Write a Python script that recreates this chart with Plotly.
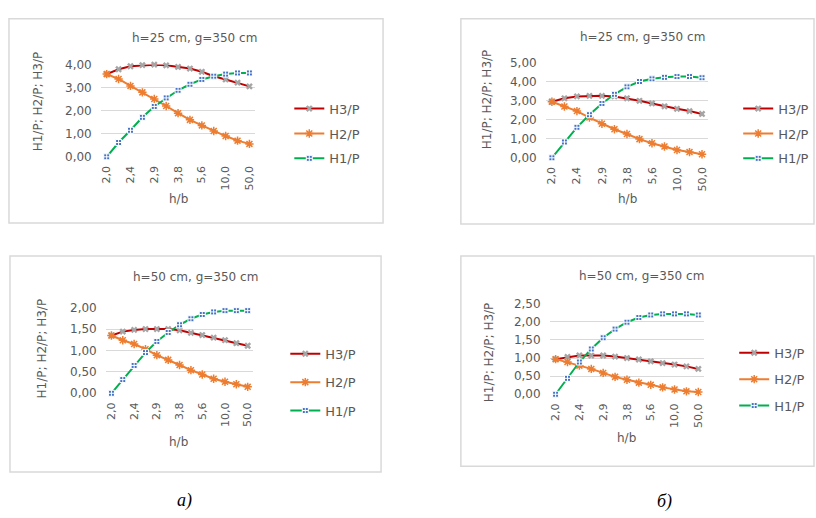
import plotly.graph_objects as go

W, H = 816, 518

# ---------------- data ----------------
categories = ["2,0", "2,2", "2,4", "2,6", "2,9", "3,3", "3,8", "4,5", "5,6", "7,1", "10,0", "16,7", "50,0"]
tick_labels = ["2,0", "2,4", "2,9", "3,8", "5,6", "10,0", "50,0"]
series_names = ["H3/P", "H2/P", "H1/P"]

# a) h=25 cm
a25_h3 = [3.58, 3.79, 3.92, 3.97, 3.99, 3.96, 3.89, 3.82, 3.68, 3.49, 3.35, 3.21, 3.05]
a25_h2 = [3.58, 3.37, 3.07, 2.79, 2.50, 2.20, 1.89, 1.60, 1.36, 1.12, 0.90, 0.70, 0.56]
a25_h1 = [0.00, 0.62, 1.15, 1.71, 2.18, 2.55, 2.88, 3.14, 3.35, 3.49, 3.58, 3.63, 3.63]
# б) h=25 cm
b25_h3 = [2.94, 3.12, 3.22, 3.25, 3.25, 3.22, 3.12, 2.99, 2.85, 2.70, 2.57, 2.45, 2.30]
b25_h2 = [2.94, 2.69, 2.45, 2.11, 1.79, 1.50, 1.25, 0.98, 0.76, 0.59, 0.41, 0.30, 0.19]
b25_h1 = [0.00, 0.83, 1.60, 2.26, 2.85, 3.33, 3.72, 4.00, 4.14, 4.22, 4.26, 4.26, 4.20]
# a) h=50 cm
a50_h3 = [1.35, 1.44, 1.48, 1.50, 1.50, 1.50, 1.47, 1.41, 1.36, 1.30, 1.24, 1.17, 1.11]
a50_h2 = [1.35, 1.24, 1.15, 1.03, 0.89, 0.78, 0.66, 0.54, 0.44, 0.34, 0.27, 0.21, 0.15]
a50_h1 = [0.00, 0.32, 0.65, 0.95, 1.21, 1.42, 1.60, 1.74, 1.84, 1.90, 1.93, 1.93, 1.93]
# б) h=50 cm
b50_h3 = [0.97, 1.03, 1.07, 1.07, 1.07, 1.04, 1.00, 0.96, 0.91, 0.86, 0.82, 0.77, 0.70]
b50_h2 = [0.97, 0.89, 0.79, 0.70, 0.59, 0.48, 0.40, 0.32, 0.26, 0.19, 0.13, 0.08, 0.06]
b50_h1 = [0.00, 0.44, 0.89, 1.25, 1.56, 1.80, 1.99, 2.12, 2.19, 2.22, 2.22, 2.22, 2.19]

titles = ["h=25 cm, g=350 cm", "h=25 cm, g=350 cm", "h=50 cm, g=350 cm", "h=50 cm, g=350 cm"]
y_title = "H1/P; H2/P; H3/P"
x_title = "h/b"
y_max = [4, 5, 2, 2.5]
y_dtick = [1, 1, 0.5, 0.5]
panel_letters = ["а)", "б)"]

data = [(a25_h3, a25_h2, a25_h1), (b25_h3, b25_h2, b25_h1),
        (a50_h3, a50_h2, a50_h1), (b50_h3, b50_h2, b50_h1)]

# ---------------- layout geometry (pixels) ----------------
panels = [
    dict(border=(8, 12, 383, 222), plot=(100, 255, 59, 154), title=(194, 32), ytitle=(37, 97), xtitle=(178, 197), leg=(289, 89), gap=5),
    dict(border=(461, 12, 815, 223), plot=(546, 709, 57, 155), title=(643, 31), ytitle=(488, 95), xtitle=(628, 197), leg=(739, 89), gap=5),
    dict(border=(9, 256, 381, 478), plot=(105, 253, 309, 397), title=(195, 278), ytitle=(41, 351), xtitle=(178, 447), leg=(285, 341), gap=8.5),
    dict(border=(461, 256, 815, 472), plot=(550, 705, 305, 398), title=(642, 276), ytitle=(490, 355), xtitle=(627, 443), leg=(735, 340), gap=6.5),
]

def px(x):
    return x / W

def py(y):
    return 1 - y / H

GRAY = "#595959"
FONT = "DejaVu Sans"
colors_line = ["#C00000", "#ED7D31", "#00B050"]

fig = go.Figure()
layout = dict(
    width=W, height=H, margin=dict(l=0, r=0, t=0, b=0),
    paper_bgcolor="white", plot_bgcolor="white",
    separators=", ", showlegend=True,
    font=dict(family=FONT, color=GRAY, size=11),
)
annotations = []
shapes = []

def ann(text, x, y, size, angle=0, color=GRAY, family=FONT):
    return dict(text=text, x=px(x), y=py(y), xref="paper", yref="paper",
                xanchor="center", yanchor="middle", showarrow=False, textangle=angle,
                font=dict(size=size, color=color, family=family))

for i, (p, series) in enumerate(zip(panels, data)):
    n = "" if i == 0 else str(i + 1)
    xa, ya = "x" + n, "y" + n
    leg = "legend" if i == 0 else "legend" + str(i + 1)
    x0, x1, yt, yb = p["plot"]
    for k, (name, vals) in enumerate(zip(series_names, series)):
        if k == 0:
            marker = dict(symbol="x", size=6, color="#A5A5A5", line=dict(width=0))
        elif k == 1:
            marker = dict(symbol="asterisk-open", size=7, color=colors_line[1], line=dict(width=1.5, color=colors_line[1]))
        else:
            marker = dict(symbol="square-cross", size=6, color="#4472C4", line=dict(width=1, color="white"))
        fig.add_trace(go.Scatter(
            x=categories, y=vals, name=name, mode="lines+markers",
            line=dict(color=colors_line[k], width=2),
            marker=marker, xaxis=xa, yaxis=ya, legend=leg,
            legendgroup=f"g{i}{k}", cliponaxis=False,
        ))
    layout["xaxis" + n] = dict(
        domain=[px(x0), px(x1)], anchor=ya, type="category",
        categoryorder="array", categoryarray=categories,
        range=[-0.5, len(categories) - 0.5],
        tickmode="array", tickvals=tick_labels, ticktext=tick_labels,
        tickangle=-90, showgrid=False, zeroline=False, showline=False,
        ticks="", tickfont=dict(size=11, color=GRAY, family=FONT),
        ticklabelstandoff=6,
    )
    layout["yaxis" + n] = dict(
        domain=[py(yb), py(yt)], anchor=xa,
        range=[0, y_max[i]], dtick=y_dtick[i], tickformat=".2f",
        showgrid=True, gridcolor="#D9D9D9", gridwidth=1, zeroline=False,
        showline=False, ticks="", tickfont=dict(size=12, color=GRAY, family=FONT),
        ticklabelstandoff=8,
    )
    lx, ly = p["leg"]
    layout[leg] = dict(
        x=px(lx), y=py(ly), xanchor="left", yanchor="top",
        bgcolor="rgba(0,0,0,0)", font=dict(size=13, color=GRAY, family=FONT),
        tracegroupgap=p["gap"], traceorder="grouped", itemwidth=30,
    )
    bx0, by0, bx1, by1 = p["border"]
    shapes.append(dict(type="rect", xref="paper", yref="paper",
                       x0=px(bx0), x1=px(bx1), y0=py(by1), y1=py(by0),
                       line=dict(color="#D9D9D9", width=1.5), fillcolor="rgba(0,0,0,0)"))
    annotations.append(ann(titles[i], *p["title"], 12))
    annotations.append(ann(y_title, *p["ytitle"], 12, angle=-90))
    annotations.append(ann(x_title, *p["xtitle"], 12))

for letter, pos in zip(panel_letters, [(184, 507), (665, 508)]):
    annotations.append(ann(f"<i>{letter}</i>", *pos, 18, color="black", family="Liberation Serif"))

layout["annotations"] = annotations
layout["shapes"] = shapes
fig.update_layout(**layout)
fig.write_html("out.html", config={"displayModeBar": False},
               post_script="document.body.style.margin='0';document.body.style.overflow='hidden';")
